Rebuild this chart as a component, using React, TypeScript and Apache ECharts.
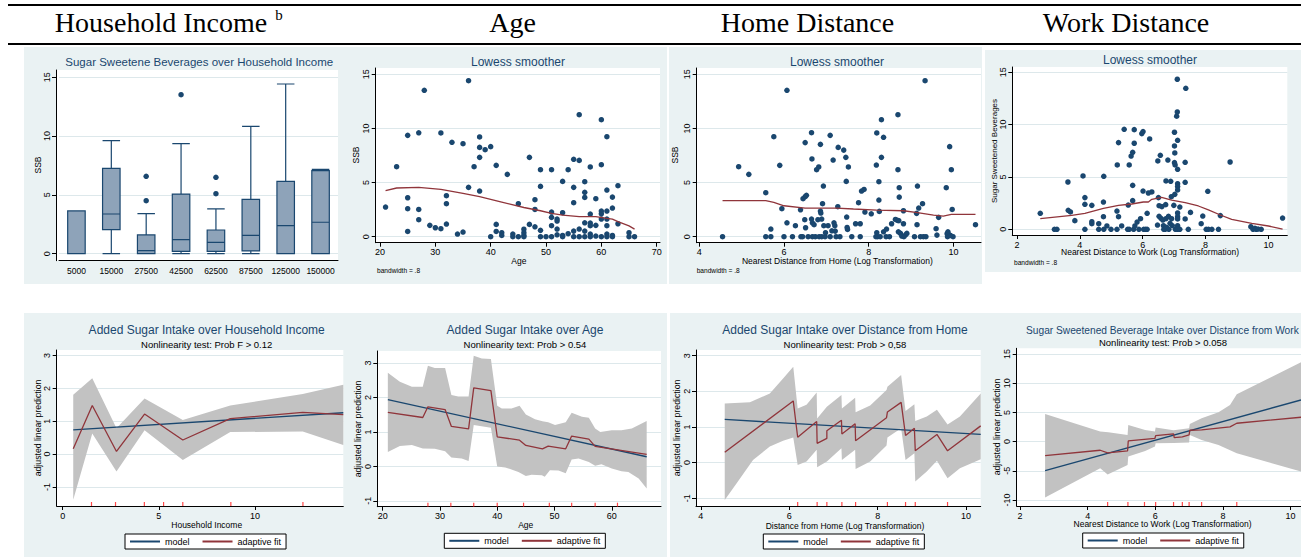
import React, { useEffect, useRef } from "react";
import * as echarts from "echarts";

// ---------- DATA ----------
// Panel 1: box plot of SSB by household income
const incomeCategories = ["5000", "15000", "27500", "42500", "62500", "87500", "125000", "150000"];
// [min, Q1, median, Q3, max]
const incomeBoxes = [
  [0, 0, 0, 3.63, 3.63],
  [0, 2.04, 3.37, 7.26, 9.61],
  [0, 0, 0.26, 1.59, 3.4],
  [0, 0.2, 1.19, 5.07, 9.36],
  [0, 0.2, 0.96, 2.01, 3.8],
  [0, 0.23, 1.56, 4.62, 10.83],
  [0, 0, 2.38, 6.15, 14.43],
  [0, 0, 2.67, 7.06, 7.17],
];
const incomeOutliers = [[2, 4.5], [2, 6.58], [3, 13.52], [4, 5.1], [4, 6.49]];

// Panel 2: SSB vs age
const ageScatter = [
  [21, 2.74], [23, 6.47], [25, 9.36], [25, 3.6], [25, 2.59], [25, 0.49], [27, 9.6], [27, 2.52], [27, 1.57],
  [28, 13.52], [29, 1.05], [30, 0.83], [31, 9.58], [31, 0.74], [32, 3.79], [32, 3.05], [32, 1.17], [33, 8.72],
  [34, 0.25], [35, 8.59], [35, 0.43], [36, 14.41], [36, 4.56], [37, 6.47], [38, 9.21], [38, 8.25], [38, 7.33],
  [38, 4.22], [39, 8.04], [40, 8.32], [40, 0], [41, 6.59], [41, 1.14], [41, 0.49], [42, 0.37], [42, 0.12],
  [43, 5.76], [44, 0.25], [44, 0], [45, 3.05], [45, 0], [46, 0.7], [46, 0.37], [46, 0.12], [46, 0], [47, 7.33],
  [47, 1.14], [48, 3.42], [48, 2.52], [48, 0.92], [49, 6.19], [49, 4.65], [49, 0.59], [49, 0], [50, 0],
  [51, 6.19], [51, 2.28], [51, 1.79], [51, 1.02], [51, 0], [52, 1.63], [52, 1.45], [52, 0.71], [52, 0.18],
  [53, 5.11], [53, 2.22], [53, 0.12], [53, 0], [54, 6.19], [54, 0.28], [55, 7.15], [55, 4.56], [55, 3.14],
  [55, 0.52], [55, 0], [56, 11.27], [56, 7.05], [56, 0.71], [56, 0], [57, 5.08], [57, 4.1], [57, 3.63],
  [57, 1.29], [57, 0.52], [57, 0], [58, 6.44], [58, 2.09], [58, 1.26], [58, 1.02], [58, 0.25], [58, 0],
  [59, 3.51], [59, 1.05], [59, 0.06], [60, 10.81], [60, 6.65], [60, 2.37], [60, 2.12], [60, 1.63], [60, 0],
  [61, 9.24], [61, 4.31], [61, 2.37], [61, 1.63], [61, 1.02], [61, 0.25], [61, 0], [62, 3.66], [62, 2.65],
  [62, 0.12], [62, 0], [63, 4.71], [63, 1.2], [65, 0.37], [65, 0], [66, 0],
];
const ageLowess = [
  [21, 4.25], [23, 4.5], [27, 4.56], [31, 4.37], [35, 4.0], [38, 3.7], [42, 3.2], [46, 2.7], [49, 2.4],
  [51, 2.16], [53, 2.0], [56, 1.85], [59, 1.85], [61, 1.7], [62, 1.63], [63, 1.39], [65, 1.0], [66, 0.7],
];

// Panel 3: SSB vs log distance from home
const homeScatter = [
  [4.55, 0], [4.93, 6.47], [5.17, 5.76], [5.57, 4.07], [5.57, 0], [5.69, 0.71], [5.69, 0], [5.76, 9.24],
  [5.9, 6.59], [5.95, 2.59], [6.0, 0], [6.07, 13.52], [6.07, 1.29], [6.2, 0], [6.27, 1.02], [6.39, 2.49],
  [6.4, 0], [6.44, 0], [6.45, 3.51], [6.5, 8.69], [6.5, 3.7], [6.53, 3.82], [6.49, 1.57], [6.51, 0.83],
  [6.57, 0], [6.65, 9.61], [6.66, 7.18], [6.65, 1.63], [6.67, 1.29], [6.67, 0], [6.71, 1.11], [6.74, 0],
  [6.77, 6.19], [6.8, 1.57], [6.82, 6.44], [6.83, 0], [6.86, 8.53], [6.86, 2.37], [6.87, 2.19], [6.89, 1.63],
  [6.89, 0], [6.91, 3.05], [6.93, 4.68], [6.94, 1.02], [6.97, 0], [6.98, 0.37], [7.04, 1.02], [7.09, 9.36],
  [7.09, 0], [7.13, 0.55], [7.16, 7.08], [7.18, 1.29], [7.2, 1.02], [7.21, 0.52], [7.23, 0], [7.27, 2.77],
  [7.28, 8.25], [7.32, 0], [7.41, 8.0], [7.46, 7.33], [7.47, 5.11], [7.48, 1.82], [7.49, 0.86], [7.5, 0.68],
  [7.52, 6.44], [7.6, 0], [7.69, 1.2], [7.76, 3.14], [7.8, 1.2], [7.8, 0], [7.83, 4.22], [7.89, 4.37],
  [7.91, 2.28], [8.06, 2.12], [8.17, 0], [8.18, 6.62], [8.19, 9.58], [8.19, 0.37], [8.21, 0], [8.24, 3.39],
  [8.24, 5.08], [8.25, 2.34], [8.27, 0], [8.3, 10.81], [8.3, 7.33], [8.35, 0.46], [8.35, 9.18], [8.41, 0],
  [8.42, 0.71], [8.49, 0], [8.54, 1.2], [8.63, 1.6], [8.68, 1.51], [8.69, 6.19], [8.69, 11.27], [8.7, 0.46],
  [8.72, 4.53], [8.72, 3.66], [8.71, 1.48], [8.75, 0.31], [8.78, 0.06], [8.82, 2.4], [8.82, 1.2], [8.83, 0],
  [8.87, 0.18], [8.9, 0.31], [9.08, 0], [9.13, 2.16], [9.14, 1.11], [9.15, 4.68], [9.18, 2.65], [9.22, 0],
  [9.27, 3.05], [9.29, 0], [9.33, 14.41], [9.35, 0], [9.59, 0.74], [9.61, 0.15], [9.65, 1.79], [9.83, 4.53],
  [9.85, 0.28], [9.86, 0], [9.87, 0.46], [9.88, 0.25], [9.91, 8.32], [9.93, 0.12], [9.95, 6.19], [9.97, 2.52],
  [9.99, 0], [10.52, 1.11],
];
const homeLowess = [
  [4.55, 3.33], [5.57, 3.33], [5.76, 3.17], [6.0, 2.86], [6.5, 2.65], [7.24, 2.65], [7.64, 2.56], [8.19, 2.46],
  [8.82, 2.4], [9.15, 2.22], [9.53, 2.0], [9.76, 1.91], [9.95, 2.06], [10.52, 2.06],
];

// Panel 4: SSB vs log distance to work
const workScatter = [
  [2.74, 1.53], [3.19, 0], [3.27, 0], [3.62, 4.52], [3.63, 1.82], [3.7, 1.66], [3.84, 0.83], [4.1, 5.1],
  [4.16, 3.03], [4.16, 2.39], [4.16, 0], [4.38, 2.29], [4.38, 0.73], [4.38, 0.54], [4.6, 0.54], [4.6, 0],
  [4.75, 2.61], [4.75, 1.21], [4.76, 5.06], [4.76, 0], [4.86, 0.32], [4.99, 0], [5.18, 1.75], [5.19, 6.15],
  [5.23, 8.28], [5.23, 1.21], [5.18, 0], [5.33, 0.32], [5.41, 9.55], [5.52, 0], [5.54, 2.32], [5.57, 6.15],
  [5.57, 0], [5.63, 7.0], [5.68, 7.36], [5.68, 4.2], [5.68, 2.74], [5.71, 0], [5.73, 9.52], [5.73, 8.22],
  [5.75, 0.32], [5.82, 0.7], [5.88, 0], [5.93, 1.02], [5.97, 9.14], [6.01, 9.33], [6.01, 3.66], [6.03, 0],
  [6.09, 0], [6.14, 1.53], [6.14, 0], [6.18, 3.47], [6.22, 8.63], [6.29, 3.57], [6.47, 0.41], [6.48, 6.53],
  [6.5, 3.03], [6.52, 2.26], [6.52, 1.24], [6.56, 7.07], [6.58, 1.05], [6.61, 2.17], [6.64, 0.89], [6.67, 0],
  [6.66, 0.35], [6.71, 0], [6.73, 2.36], [6.74, 4.62], [6.74, 1.02], [6.76, 0.19], [6.8, 6.62], [6.82, 1.24],
  [6.83, 0], [6.87, 0.57], [6.89, 4.59], [6.91, 3.12], [6.92, 1.02], [6.94, 0.35], [6.99, 2.29], [7.02, 7.29],
  [7.01, 9.27], [7.01, 7.96], [7.01, 6.37], [7.02, 3.34], [7.03, 6.15], [7.04, 0], [7.08, 10.8], [7.1, 11.21],
  [7.1, 14.33], [7.11, 8.5], [7.11, 5.73], [7.11, 4.36], [7.11, 4.08], [7.11, 3.76], [7.11, 1.56], [7.11, 1.21],
  [7.11, 0.99], [7.11, 0.35], [7.11, 0.16], [7.11, 0], [7.18, 2.13], [7.18, 0], [7.35, 4.49], [7.37, 13.47],
  [7.35, 6.4], [7.35, 0.99], [7.45, 0], [7.52, 1.62], [7.86, 0.54], [7.91, 1.27], [8.02, 0], [8.07, 3.63],
  [8.09, 0], [8.2, 0], [8.41, 0], [8.47, 1.31], [8.78, 6.43], [9.44, 0.25], [9.51, 0], [9.57, 0.1], [9.61, 0],
  [9.67, 0.03], [9.77, 0], [10.45, 1.08],
];
const workLowess = [
  [2.74, 1.02], [3.74, 1.34], [4.16, 1.53], [4.75, 2.0], [5.23, 2.29], [5.65, 2.42], [6.02, 2.61], [6.18, 2.61],
  [6.29, 2.87], [6.6, 3.06], [6.92, 2.8], [7.35, 2.55], [7.77, 2.23], [8.09, 1.85], [8.47, 1.37], [8.83, 0.96],
  [9.47, 0.57], [10.0, 0.32], [10.45, 0.03],
];

// Panel 5: added sugar vs household income
const incModel = [[0.55, 0.74], [14.6, 1.26]];
const incFit = [[0.55, 0.16], [1.54, 1.48], [2.8, 0.08], [4.26, 1.22], [6.25, 0.43], [8.72, 1.08], [12.49, 1.27], [14.6, 1.2]];
const incUpper = [[0.55, 1.81], [1.54, 2.31], [2.8, 0.79], [4.26, 1.69], [6.25, 1.04], [8.72, 1.48], [12.49, 1.83], [14.6, 2.11]];
const incLower = [[0.55, -1.39], [1.54, 0.63], [2.8, -0.53], [4.26, 0.73], [6.25, -0.18], [8.72, 0.67], [12.49, 0.69], [14.6, 0.28]];
const incKnots = [1.5, 2.75, 4.25, 5.25, 6.25, 8.75, 12.5];

// Panel 6: added sugar vs age
const ageModel = [[20.9, 1.94], [66.1, 0.28]];
const ageFit = [
  [20.9, 1.57], [27, 1.42], [27.9, 1.73], [30.9, 1.65], [32, 1.16], [35, 1.09], [35.9, 2.28], [38.9, 2.2],
  [40, 0.86], [43.9, 0.76], [45, 0.61], [47.9, 0.51], [48.9, 0.59], [51.96, 0.51], [53, 0.88], [56, 0.79],
  [57.1, 0.58], [66.1, 0.35],
];
const ageUpper = [
  [20.9, 2.72], [23, 2.46], [25.1, 2.31], [27, 2.31], [27.9, 2.92], [29.1, 2.86], [30.9, 2.86], [32, 2.07],
  [33.2, 2.03], [35, 2.03], [35.9, 3.21], [37.3, 3.13], [38.9, 3.12], [40, 1.76], [40.8, 1.68], [42.5, 1.68],
  [43.9, 1.76], [45, 1.51], [46.6, 1.37], [47.9, 1.31], [48.9, 1.28], [50.1, 1.2], [51.96, 1.28], [53, 1.56],
  [54.8, 1.44], [56, 1.41], [57.1, 1.1], [58, 1.0], [60, 1.05], [61.7, 1.05], [63.5, 1.1], [66.1, 1.32],
];
const ageLower = [
  [20.9, 0.42], [23, 0.59], [25.1, 0.62], [27, 0.52], [29.1, 0.51], [30.9, 0.44], [32, 0.26], [33.8, 0.23],
  [35, 0.16], [35.9, 1.2], [38.9, 1.12], [40, 0.0], [41.4, -0.03], [43.7, -0.16], [45, -0.28], [46, -0.24],
  [47.8, -0.26], [48.3, -0.3], [49.2, -0.11], [50.7, -0.12], [51.96, -0.2], [53, 0.2], [54.2, 0.23],
  [56, 0.13], [57.1, 0.02], [58.2, 0.06], [60, -0.06], [61.7, -0.14], [62.9, -0.16], [64.7, -0.35], [66.1, -0.64],
];
const ageKnots = [27.9, 31.9, 35.9, 40.0, 44.6, 49.1, 53.0, 57.1, 61.0];

// Panel 7: added sugar vs log distance from home
const homeModel = [[4.54, 1.21], [10.33, 0.79]];
const homeFit = [
  [4.54, 0.29], [6.09, 1.73], [6.19, 0.71], [6.62, 1.15], [6.63, 0.54], [6.85, 0.68], [6.85, 0.89], [7.18, 1.19],
  [7.19, 0.8], [7.49, 1.09], [7.5, 0.61], [8.2, 1.26], [8.22, 1.42], [8.53, 1.69], [8.63, 0.76], [8.83, 0.96],
  [8.85, 0.33], [9.34, 0.79], [9.58, 0.33], [10.33, 1.03],
];
const homeUpper = [
  [4.54, 1.66], [5.11, 1.69], [5.56, 1.94], [5.86, 2.36], [6.09, 2.69], [6.19, 1.52], [6.39, 1.62], [6.62, 1.97],
  [6.63, 1.24], [6.85, 1.57], [7.18, 1.9], [7.19, 1.52], [7.49, 1.82], [7.5, 1.41], [7.83, 1.6], [8.2, 2.04],
  [8.22, 2.13], [8.53, 2.46], [8.63, 1.45], [8.83, 1.64], [8.85, 1.17], [9.11, 1.29], [9.34, 1.48], [9.58, 1.07],
  [9.86, 1.29], [10.33, 1.94],
];
const homeLower = [
  [4.54, -1.05], [4.81, -0.58], [5.18, 0.07], [5.56, 0.45], [5.86, 0.61], [6.09, 0.7], [6.19, -0.07], [6.39, 0.03],
  [6.62, 0.36], [6.63, -0.13], [6.85, 0.03], [7.18, 0.4], [7.19, 0.07], [7.49, 0.36], [7.5, -0.18], [7.83, 0.03],
  [8.2, 0.48], [8.22, 0.7], [8.53, 0.96], [8.63, 0.07], [8.83, 0.26], [8.85, -0.53], [9.11, -0.25], [9.34, 0.05],
  [9.58, -0.44], [9.86, -0.16], [10.33, 0.09],
];
const homeKnots = [6.19, 6.63, 6.85, 7.19, 7.5, 8.22, 8.63, 8.85, 9.58];

// Panel 8: SSB vs log distance to work
const workModel = [[2.74, -4.97], [10.31, 7.13]];
const workFit = [
  [2.74, -2.4], [4.37, -1.48], [4.59, -1.94], [5.18, -1.6], [5.2, 0.11], [5.99, 0.57], [6.01, 1.03], [6.54, 1.31],
  [6.56, 0.68], [6.8, 0.8], [7.0, 1.14], [7.02, 1.94], [7.37, 2.0], [8.21, 2.51], [8.41, 3.14], [10.31, 4.17],
];
const workUpper = [
  [2.74, 4.74], [4.37, 1.71], [4.61, 1.6], [5.18, 1.14], [5.2, 2.85], [5.7, 2.0], [5.99, 1.71], [6.01, 2.4],
  [6.54, 1.94], [7.0, 2.28], [7.02, 3.03], [7.37, 4.0], [7.87, 5.02], [8.21, 6.28], [8.41, 8.1], [10.31, 13.58],
];
const workLower = [
  [2.74, -9.59], [4.37, -4.57], [4.59, -5.65], [5.18, -4.0], [5.2, -2.57], [5.7, -1.6], [5.99, -0.86], [6.01, -0.29],
  [6.54, -0.23], [7.0, -0.17], [7.02, 1.14], [7.37, 0.29], [7.87, -0.57], [8.41, -2.0], [10.31, -5.1],
];
const workKnots = [4.59, 5.19, 5.68, 6.01, 6.54, 6.8, 7.0, 7.37, 8.41];

// Tick labels
const ssbTicks = [0, 5, 10, 15];
const predTicks = [-1, 0, 1, 2, 3];
const workPredTicks = [-10, -5, 0, 5, 10, 15];
const ageTicks = [20, 30, 40, 50, 60, 70];
const ageTicks2 = [20, 30, 40, 50, 60];
const homeTicks = [4, 6, 8, 10];
const workTicks = [2, 4, 6, 8, 10];
const incomeTicks = [0, 5, 10];

// ---------- LAYOUT / STYLE ----------
const SANS = '"Liberation Sans", Arial, sans-serif';
const SERIF = '"Liberation Serif", "Times New Roman", serif';
const NAVY = "#1a476f";
const MAROON = "#90353b";
const PANEL_BG = "#eaf2f3";
const GRID_LINE = "#dde8eb";
const BAND = "#c2c2c2";

type Panel = {
  bg: number[];
  plot: number[];
  grid: number[];
  x: { min: number; max: number; ticks?: number[] };
  y: { min: number; max: number; ticks: number[] };
  yOffset?: number;
};

const panels: Panel[] = [
  { bg: [24, 47, 321, 237], plot: [56, 70, 282, 190.7], grid: [59, 70, 279, 190.7], x: { min: 0, max: 0 }, y: { min: -0.6, max: 15.62, ticks: ssbTicks }, yOffset: 3 },
  { bg: [345, 47, 322, 237], plot: [375.7, 68, 284.3, 174.7], grid: [375.7, 68, 284.3, 174.7], x: { min: 19.22, max: 70.6, ticks: ageTicks }, y: { min: -0.55, max: 15.58, ticks: ssbTicks } },
  { bg: [669, 47, 313, 237], plot: [696.7, 68, 284.3, 174.7], grid: [696.7, 68, 284.3, 174.7], x: { min: 3.94, max: 10.65, ticks: homeTicks }, y: { min: -0.55, max: 15.58, ticks: ssbTicks } },
  { bg: [985, 50, 316, 222], plot: [1012.3, 67, 275, 168], grid: [1012.3, 67, 275, 168], x: { min: 1.85, max: 10.6, ticks: workTicks }, y: { min: -0.54, max: 15.5, ticks: ssbTicks } },
  { bg: [24, 313, 321, 244], plot: [56.7, 350, 286.6, 156], grid: [56.7, 350, 286.6, 156], x: { min: -0.31, max: 14.6, ticks: incomeTicks }, y: { min: -1.58, max: 3.17, ticks: predTicks } },
  { bg: [345, 313, 322, 244], plot: [377.3, 351, 283.7, 155.7], grid: [377.3, 351, 283.7, 155.7], x: { min: 19.06, max: 68.6, ticks: ageTicks2 }, y: { min: -1.17, max: 3.35, ticks: predTicks } },
  { bg: [670, 313, 315, 244], plot: [696, 350, 284.7, 156], grid: [696, 350, 284.7, 156], x: { min: 3.89, max: 10.33, ticks: homeTicks }, y: { min: -1.22, max: 3.16, ticks: predTicks } },
  { bg: [985, 313, 316, 244], plot: [1016.7, 348.3, 284.3, 157.7], grid: [1016.7, 348.3, 284.3, 157.7], x: { min: 1.9, max: 10.31, ticks: workTicks }, y: { min: -11.03, max: 15.98, ticks: workPredTicks } },
];

const axisLineStyle = { show: true, onZero: false, lineStyle: { color: "#000", width: 1 } };
const labelStyle = { fontSize: 9, color: "#000", fontFamily: SANS };

function txt(x: number, y: number, text: string, size: number, opts: any = {}) {
  const align = opts.align || "center";
  return {
    type: "text",
    x,
    y,
    rotation: opts.rotation || 0,
    silent: true,
    z: 20,
    style: {
      text,
      fill: opts.color || "#000",
      fontSize: size,
      fontFamily: opts.family || SANS,
      align,
      textAlign: align,
      verticalAlign: "middle",
      textVerticalAlign: "middle",
    },
  };
}

function bandSeries(idx: number, upper: number[][], lower: number[][]) {
  return {
    type: "custom",
    name: "band",
    xAxisIndex: idx,
    yAxisIndex: idx,
    silent: true,
    z: 1,
    data: [[upper[0][0], upper[0][1]]],
    renderItem: (_params: any, api: any) => {
      const pts = upper.concat(lower.slice().reverse()).map((p) => api.coord(p));
      return { type: "polygon", shape: { points: pts }, style: { fill: BAND, stroke: null } };
    },
  };
}

function lineSeries(idx: number, name: string, data: number[][], color: string) {
  return {
    type: "line",
    name,
    xAxisIndex: idx,
    yAxisIndex: idx,
    data,
    color,
    symbol: "none",
    showSymbol: false,
    z: name === "model" ? 3 : 4,
    lineStyle: { color, width: 1.3 },
    itemStyle: { color },
  };
}

function rugSeries(idx: number, knots: number[], yMin: number) {
  return {
    type: "scatter",
    name: "knots",
    xAxisIndex: idx,
    yAxisIndex: idx,
    data: knots.map((k) => [k, yMin]),
    symbol: "rect",
    symbolSize: [1.2, 4],
    symbolOffset: [0, -2],
    clip: false,
    z: 5,
    itemStyle: { color: "#ff1a1a" },
  };
}

function scatterSeries(idx: number, data: number[][]) {
  return {
    type: "scatter",
    name: "points",
    xAxisIndex: idx,
    yAxisIndex: idx,
    data,
    symbol: "circle",
    symbolSize: 5.5,
    z: 3,
    itemStyle: { color: NAVY, opacity: 1 },
  };
}

function buildOption() {
  const grid: any[] = [];
  const xAxis: any[] = [];
  const yAxis: any[] = [];
  const graphic: any[] = [];

  panels.forEach((p, i) => {
    graphic.push({ type: "rect", shape: { x: p.bg[0], y: p.bg[1], width: p.bg[2], height: p.bg[3] }, style: { fill: PANEL_BG }, z: -10, silent: true });
    graphic.push({ type: "rect", shape: { x: p.plot[0], y: p.plot[1], width: p.plot[2], height: p.plot[3] }, style: { fill: "#fff" }, z: -9, silent: true });
    grid.push({ left: p.grid[0], top: p.grid[1], width: p.grid[2], height: p.grid[3], show: false });
    if (i === 0) {
      xAxis.push({
        type: "category",
        gridIndex: 0,
        data: incomeCategories,
        boundaryGap: true,
        axisLine: axisLineStyle,
        axisTick: { show: false },
        axisLabel: { ...labelStyle, fontSize: 8.5, margin: 6, interval: 0 },
        splitLine: { show: false },
      });
    } else {
      xAxis.push({
        type: "value",
        gridIndex: i,
        min: p.x.min,
        max: p.x.max,
        axisLine: axisLineStyle,
        axisTick: { show: true, length: 4, customValues: p.x.ticks, lineStyle: { color: "#000" } },
        axisLabel: { ...labelStyle, margin: 5, customValues: p.x.ticks },
        splitLine: { show: false },
      });
    }
    yAxis.push({
      type: "value",
      gridIndex: i,
      min: p.y.min,
      max: p.y.max,
      offset: p.yOffset || 0,
      axisLine: axisLineStyle,
      axisTick: { show: true, length: 4, customValues: p.y.ticks, lineStyle: { color: "#000" } },
      axisLabel: { ...labelStyle, margin: 5, rotate: 90, customValues: p.y.ticks },
      splitLine: { show: true, lineStyle: { color: GRID_LINE, width: 1 } },
    });
  });

  // Header
  graphic.push({ type: "line", shape: { x1: 8, y1: 5, x2: 1301, y2: 5 }, style: { stroke: "#000", lineWidth: 2 }, silent: true });
  graphic.push({ type: "line", shape: { x1: 8, y1: 44, x2: 1301, y2: 44 }, style: { stroke: "#000", lineWidth: 2 }, silent: true });
  graphic.push(txt(161, 22.5, "Household Income", 28, { family: SERIF }));
  graphic.push(txt(279, 15, "b", 15, { family: SERIF }));
  graphic.push(txt(512.5, 22.5, "Age", 28, { family: SERIF }));
  graphic.push(txt(807.5, 22.5, "Home Distance", 28, { family: SERIF }));
  graphic.push(txt(1126, 22.5, "Work Distance", 28, { family: SERIF }));

  // Titles
  graphic.push(txt(199.2, 62, "Sugar Sweetene Beverages over Household Income", 11.5, { color: NAVY }));
  graphic.push(txt(518, 61.5, "Lowess smoother", 12, { color: NAVY }));
  graphic.push(txt(837, 61.5, "Lowess smoother", 12, { color: NAVY }));
  graphic.push(txt(1150, 60, "Lowess smoother", 12, { color: NAVY }));
  graphic.push(txt(206.7, 330, "Added Sugar Intake over Household Income", 12, { color: NAVY }));
  graphic.push(txt(206.7, 344, "Nonlinearity test: Prob F > 0.12", 9.5));
  graphic.push(txt(525, 330, "Added Sugar Intake over Age", 12, { color: NAVY }));
  graphic.push(txt(525, 344, "Nonlinearity text: Prob > 0.54", 9.5));
  graphic.push(txt(845, 330, "Added Sugar Intake over Distance from Home", 12, { color: NAVY }));
  graphic.push(txt(845, 344, "Nonlinearity test: Prob > 0,58", 9.5));
  graphic.push(txt(1026, 330, "Sugar Sweetened Beverage Intake over Distance from Work", 10.2, { color: NAVY, align: "left" }));
  graphic.push(txt(1163, 342, "Nonlinearity test: Prob > 0.058", 9.5));

  // Y axis names
  const R = Math.PI / 2;
  graphic.push(txt(38.3, 165, "SSB", 8.5, { rotation: R }));
  graphic.push(txt(355.7, 155, "SSB", 8.5, { rotation: R }));
  graphic.push(txt(675, 155, "SSB", 8.5, { rotation: R }));
  graphic.push(txt(994.3, 151, "Sugar Sweetened Beverages", 8, { rotation: R }));
  graphic.push(txt(38.3, 428, "adjusted linear prediction", 8.7, { rotation: R }));
  graphic.push(txt(357.7, 429, "adjusted linear prediction", 8.7, { rotation: R }));
  graphic.push(txt(676.7, 428, "adjusted linear prediction", 8.7, { rotation: R }));
  graphic.push(txt(996.7, 427, "adjusted linear prediction", 8.7, { rotation: R }));

  // X axis names
  graphic.push(txt(518.8, 260.7, "Age", 8.5));
  graphic.push(txt(837.3, 260.7, "Nearest Distance from Home (Log Transformation)", 8.5));
  graphic.push(txt(1150, 252.3, "Nearest Distance to Work (Log Transformation)", 8.5));
  graphic.push(txt(206.7, 525, "Household Income", 8.5));
  graphic.push(txt(525.7, 525, "Age", 8.5));
  graphic.push(txt(845, 525.7, "Distance from Home (Log Transformation)", 8.5));
  graphic.push(txt(1162.5, 524.3, "Nearest Distance to Work (Log Transformation)", 8.5));

  // bandwidth notes
  graphic.push(txt(377, 270.7, "bandwidth = .8", 6.6, { align: "left" }));
  graphic.push(txt(696.7, 270.7, "bandwidth = .8", 6.6, { align: "left" }));
  graphic.push(txt(1014, 262, "bandwidth = .8", 6.6, { align: "left" }));

  const series: any[] = [
    {
      type: "boxplot",
      name: "box",
      xAxisIndex: 0,
      yAxisIndex: 0,
      data: incomeBoxes,
      boxWidth: [17.5, 17.5],
      z: 3,
      itemStyle: { color: "#8ea3b9", borderColor: NAVY, borderWidth: 1.2 },
    },
    scatterSeries(0, incomeOutliers),
    scatterSeries(1, ageScatter),
    lineSeries(1, "lowess", ageLowess, MAROON),
    scatterSeries(2, homeScatter),
    lineSeries(2, "lowess", homeLowess, MAROON),
    scatterSeries(3, workScatter),
    lineSeries(3, "lowess", workLowess, MAROON),

    bandSeries(4, incUpper, incLower),
    lineSeries(4, "model", incModel, NAVY),
    lineSeries(4, "adaptive fit", incFit, MAROON),
    rugSeries(4, incKnots, panels[4].y.min),

    bandSeries(5, ageUpper, ageLower),
    lineSeries(5, "model", ageModel, NAVY),
    lineSeries(5, "adaptive fit", ageFit, MAROON),
    rugSeries(5, ageKnots, panels[5].y.min),

    bandSeries(6, homeUpper, homeLower),
    lineSeries(6, "model", homeModel, NAVY),
    lineSeries(6, "adaptive fit", homeFit, MAROON),
    rugSeries(6, homeKnots, panels[6].y.min),

    bandSeries(7, workUpper, workLower),
    lineSeries(7, "model", workModel, NAVY),
    lineSeries(7, "adaptive fit", workFit, MAROON),
    rugSeries(7, workKnots, panels[7].y.min),
  ];

  const legendPos = [[125, 534], [444.3, 533.3], [763.3, 534], [1082.7, 533]];
  const legend = legendPos.map(([l, t]) => ({
    left: l,
    top: t,
    orient: "horizontal",
    data: ["model", "adaptive fit"],
    backgroundColor: "#fff",
    borderColor: "#000",
    borderWidth: 1,
    borderRadius: 0,
    padding: [3, 5],
    itemWidth: 30,
    itemHeight: 2,
    itemGap: 13,
    icon: "rect",
    selectedMode: false,
    textStyle: { fontSize: 9, color: "#000", fontFamily: SANS },
  }));

  return {
    animation: false,
    backgroundColor: "#fff",
    textStyle: { fontFamily: SANS },
    grid,
    xAxis,
    yAxis,
    legend,
    graphic: { elements: graphic },
    series,
  };
}

export default function App() {
  const ref = useRef<HTMLDivElement>(null);
  useEffect(() => {
    if (!ref.current) return;
    const chart = echarts.init(ref.current, undefined, { renderer: "svg", width: 1301, height: 557 });
    chart.setOption(buildOption() as any);
    return () => chart.dispose();
  }, []);
  return (
    <div
      ref={ref}
      style={{ position: "absolute", left: 0, top: 0, width: 1301, height: 557, background: "#fff" }}
    />
  );
}
